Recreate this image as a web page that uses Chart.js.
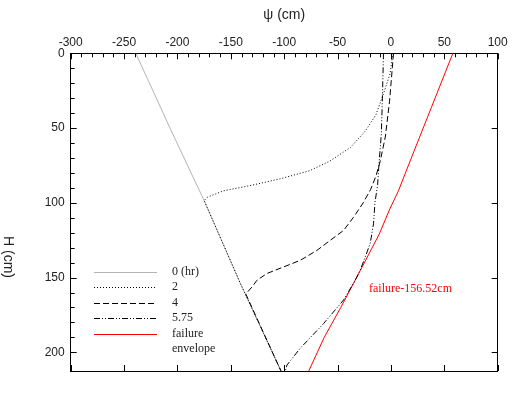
<!DOCTYPE html>
<html><head><meta charset="utf-8">
<style>html,body{margin:0;padding:0;background:#fff;}#wrap{width:527px;height:398px;}</style>
<script src="https://cdn.jsdelivr.net/npm/chart.js@4/dist/chart.umd.min.js"></script>
</head><body><div id="wrap"><canvas id="c" width="527" height="398"></canvas></div>
<script>
// ---- data (ψ in cm, H in cm) ----
const seriesLabels = ['0 (hr)', '2', '4', '5.75', ['failure', 'envelope']];
const psi0 = [-239, -207, -175, -141, -103];
const h0 = [0, 50, 98.5, 154, 212.5];
const psi2 = [2, -1, -7, -14, -24, -38, -57, -76, -104, -132, -157, -172, -175, -141, -103];
const h2 = [0, 14, 27, 41, 52, 63, 72, 78.5, 84, 88.5, 92, 96.3, 98.5, 154, 212.5];
const psi4 = [2.4, -1.3, -5.3, -10, -14, -19, -26, -35, -44.4, -56.9, -69.3, -85, -100.6, -116.2, -125.5, -130.2, -136, -103];
const h4 = [0, 32, 56, 72, 82, 91, 100, 109.6, 118.5, 125.1, 131.8, 138.5, 142.9, 147.3, 151.8, 156.3, 161, 212.5];
const psi575 = [-7, -8, -9, -11, -12.5, -15, -16.3, -19.4, -24.1, -28.8, -33.4, -44.4, -63, -85, -97.4, -99];
const h575 = [0, 30, 54, 72, 88, 100, 114, 127, 136.3, 145, 151.8, 165, 180.7, 197.3, 208.5, 212.5];
const psiFail = [58, 38, 18, 7, -1, -11, -28.5, -47, -62.5, -77];
const hFail = [0, 36, 72, 92, 104, 121, 145, 170, 190, 212.5];
const xTickLabels = [-300, -250, -200, -150, -100, -50, 0, 50, 100];
const yTickLabels = [0, 50, 100, 150, 200];
const annotationText = 'failure-156.52cm';

const pts = (xs, ys) => xs.map((x, i) => ({x: x, y: ys[i]}));
const SANS = "'Liberation Sans', Arial, sans-serif";
const SERIF = "'Liberation Serif', 'Times New Roman', serif";

const base = {pointRadius: 0, borderWidth: 1, tension: 0, fill: false, xAxisID: 'x', yAxisID: 'y'};
const datasets = [
  Object.assign({}, base, {label: seriesLabels[0], data: pts(psi0, h0), borderColor: '#b4b4b4', order: 10}),
  Object.assign({}, base, {label: seriesLabels[1], data: pts(psi2, h2), borderColor: '#000', borderDash: [1, 2], order: 1}),
  Object.assign({}, base, {label: seriesLabels[2], data: pts(psi4, h4), borderColor: '#000', borderDash: [6, 3], order: 1}),
  Object.assign({}, base, {label: seriesLabels[3], data: pts(psi575, h575), borderColor: '#000', borderDash: [6, 2, 1, 2, 1, 2], order: 1}),
  Object.assign({}, base, {label: seriesLabels[4], data: pts(psiFail, hFail), borderColor: '#ff0000', order: 1})
];

const tickPlugin = {
  id: 'inwardTicks',
  afterDraw(chart) {
    const ctx = chart.ctx, a = chart.chartArea;
    ctx.save();
    ctx.strokeStyle = '#000'; ctx.lineWidth = 1;
    const len = v => (v % 50 === 0 ? 6 : 4);
    const horiz = (scale, y0, dir) => scale.ticks.forEach(t => {
      if (t.value % 10 !== 0) return;
      const p = Math.round(scale.getPixelForValue(t.value)) + 0.5;
      ctx.beginPath(); ctx.moveTo(p, y0); ctx.lineTo(p, y0 + dir * len(t.value)); ctx.stroke();
    });
    const vert = (scale, x0, dir) => scale.ticks.forEach(t => {
      if (t.value % 10 !== 0) return;
      const p = Math.round(scale.getPixelForValue(t.value)) + 0.5;
      ctx.beginPath(); ctx.moveTo(x0, p); ctx.lineTo(x0 + dir * len(t.value), p); ctx.stroke();
    });
    horiz(chart.scales.x, a.top, 1);
    horiz(chart.scales.x2, a.bottom, -1);
    vert(chart.scales.y, a.left, 1);
    vert(chart.scales.y2, a.right, -1);

    // y-axis title (reads top to bottom)
    ctx.fillStyle = '#222';
    ctx.font = '14px ' + SANS;
    ctx.textAlign = 'center'; ctx.textBaseline = 'middle';
    ctx.save(); ctx.translate(8, 257); ctx.rotate(Math.PI / 2);
    ctx.fillText('H (cm)', 0, 0); ctx.restore();

    // legend
    const rowY = [271.7, 287, 302.5, 318.2, 333.5];
    ctx.font = '12px ' + SERIF;
    ctx.textAlign = 'left';
    chart.data.datasets.forEach((ds, i) => {
      const y = Math.round(rowY[i]) + 0.5;
      ctx.save();
      ctx.strokeStyle = ds.borderColor; ctx.lineWidth = ds.borderWidth;
      ctx.setLineDash(ds.borderDash || []);
      ctx.beginPath(); ctx.moveTo(94, y); ctx.lineTo(157, y); ctx.stroke();
      ctx.restore();
      ctx.fillStyle = '#222';
      const lab = Array.isArray(ds.label) ? ds.label : [ds.label];
      lab.forEach((s, k) => ctx.fillText(s, 172, rowY[i] + k * 15));
    });

    // annotation
    ctx.fillStyle = '#ff0000';
    ctx.font = '12px ' + SERIF;
    ctx.fillText(annotationText, 369, 288.5);
    ctx.restore();
  }
};

const bgPlugin = {
  id: 'bg',
  beforeDraw(chart) { const c = chart.ctx; c.save(); c.fillStyle = '#fff'; c.fillRect(0, 0, chart.width, chart.height); c.restore(); }
};

const border = {display: true, color: '#000', width: 1};
new Chart(document.getElementById('c'), {
  type: 'line',
  data: {datasets: datasets},
  options: {
    responsive: false, animation: false, devicePixelRatio: 1,
    layout: {padding: 0},
    plugins: {legend: {display: false}, tooltip: {enabled: false}},
    scales: {
      x: {
        type: 'linear', position: 'top', min: -300, max: 100,
        ticks: {stepSize: 10, autoSkip: false, maxRotation: 0, padding: 3, color: '#222',
          font: {family: SANS, size: 12},
          callback: v => (xTickLabels.includes(v) ? String(v) : '')},
        grid: {display: false, drawTicks: false}, border: border,
        title: {display: true, text: 'ψ (cm)', color: '#222', font: {family: SANS, size: 14}, padding: {top: 6.6, bottom: 0}},
        afterFit: s => { s.height = 53.3; }
      },
      x2: {
        type: 'linear', position: 'bottom', min: -300, max: 100,
        ticks: {stepSize: 50, display: false},
        grid: {display: false, drawTicks: false}, border: border,
        afterFit: s => { s.height = 27; }
      },
      y: {
        type: 'linear', position: 'left', reverse: true, min: 0, max: 212.5,
        ticks: {stepSize: 10, autoSkip: false, padding: 6, color: '#222',
          font: {family: SANS, size: 12},
          callback: v => (yTickLabels.includes(v) ? String(v) : '')},
        grid: {display: false, drawTicks: false}, border: border,
        afterFit: s => { s.width = 70.7; }
      },
      y2: {
        type: 'linear', position: 'right', reverse: true, min: 0, max: 212.5,
        ticks: {stepSize: 50, display: false},
        grid: {display: false, drawTicks: false}, border: border,
        afterFit: s => { s.width = 29.3; }
      }
    }
  },
  plugins: [bgPlugin, tickPlugin]
});
</script></body></html>
